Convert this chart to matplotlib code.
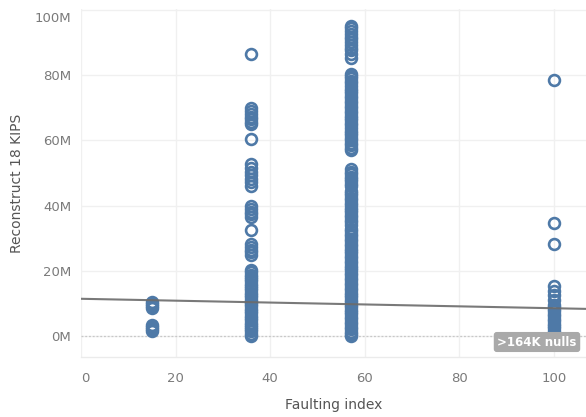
import matplotlib
matplotlib.use("Agg")
import matplotlib.pyplot as plt
import matplotlib.transforms as mtransforms
from matplotlib.ticker import FuncFormatter

# Faulting index levels and the Reconstruct 18 KIPS readings (millions) at each level
fault_levels = [15, 36, 57, 100]

kips_15 = [10.3, 9.7, 9.1, 8.5, 3.5, 2.8, 2.1, 1.4]

kips_36 = [86.5,
           69.8, 69.0, 68.2, 67.3, 66.5, 65.6, 64.9,
           60.3,
           52.7, 51.6, 50.4, 49.5, 48.2, 47.1, 46.1,
           39.8, 38.9, 38.1, 37.3, 36.6,
           32.6,
           28.2, 27.3, 26.4, 25.6, 24.8,
           20.3, 19.6, 18.8, 18.1, 17.5, 16.8, 16.0, 15.3, 14.7, 14.0, 13.2,
           12.6, 11.9, 11.1, 10.4, 9.8, 9.1, 8.3, 7.7, 7.0, 6.2, 5.6, 4.9,
           4.1, 3.5, 2.8, 2.0, 1.4, 0.7, 0.1]

kips_57 = [95.2, 94.4, 93.5, 92.7, 91.8, 91.0, 90.1, 89.2, 88.4, 87.6, 86.5, 85.4,
           80.5, 79.8, 79.0, 78.3, 77.5, 76.6, 75.9, 75.2, 74.4, 73.7, 72.9,
           72.1, 71.4, 70.6, 69.9, 69.1, 68.4, 67.6, 66.8, 66.1, 65.3, 64.6,
           63.8, 63.0, 62.3, 61.5, 60.8, 60.0, 59.3, 58.5, 57.7, 56.9,
           51.2, 50.4, 49.7, 48.9, 48.2, 47.4, 46.7, 45.9, 44.6, 43.9, 43.1,
           42.4, 41.6, 40.9, 40.1, 39.4, 38.6, 37.9, 37.1, 36.4, 35.6, 34.9,
           34.1, 32.8, 32.1, 31.3, 30.6, 29.8, 29.1, 28.3, 27.6, 26.8, 26.1,
           25.3, 24.6, 23.8, 23.1, 22.3, 21.6, 20.8, 20.1, 19.3, 18.6, 17.8,
           17.1, 16.3, 15.6, 14.8, 14.1, 13.3, 12.6, 11.8, 11.1, 10.3, 9.6,
           8.8, 8.1, 7.3, 6.6, 5.8, 5.1, 4.3, 3.6, 2.8, 2.1, 1.3, 0.6, 0.0]

kips_100 = [78.4, 34.8, 28.3,
            15.2, 13.9, 12.6, 11.0, 9.6,
            9.0, 8.3, 7.5, 6.8, 6.0, 5.3, 4.5, 3.8, 3.0, 2.3, 1.5, 0.8, 0.1]

# Linear trend line (millions): value = intercept + slope * faulting index
trend_intercept = 11.4
trend_slope = -0.029

x_ticks = [0, 20, 40, 60, 80, 100]
y_ticks = [0, 20, 40, 60, 80, 100]
null_label = ">164K nulls"

series = [kips_15, kips_36, kips_57, kips_100]

W, H = 586, 417
fig = plt.figure(figsize=(W / 100, H / 100), dpi=100)
left_px, right_px, top_px, bottom_px = 81, 586, 9, 357
ax = fig.add_axes([left_px / W, 1 - bottom_px / H,
                   (right_px - left_px) / W, (bottom_px - top_px) / H])

xmin, xmax = 0, 106.8
ymin, ymax = -6.46, 100.3
ax.set_xlim(xmin, xmax)
ax.set_ylim(ymin, ymax)

blue = "#4e79a7"
for xv, vals in zip(fault_levels, series):
    ax.plot([xv] * len(vals), vals, linestyle="none", marker="o",
            markersize=7.8, markerfacecolor="none", markeredgecolor=blue,
            markeredgewidth=1.9, zorder=3)

tx = [xmin, xmax]
ty = [trend_intercept + trend_slope * v for v in tx]
ax.plot(tx, ty, color="#6b6b6b", linewidth=1.5, alpha=0.9, zorder=4)

# grid and frame
ax.set_xticks(x_ticks)
ax.set_yticks(y_ticks)
ax.grid(True, color="#f0f0f0", linewidth=1.0, zorder=0)
ax.axhline(0, color="#c8c8c8", linewidth=0.9, linestyle=(0, (1.5, 1.5)), zorder=1)
for side in ["top", "right", "left"]:
    ax.spines[side].set_visible(False)
ax.spines["bottom"].set_color("#ebebeb")
ax.spines["bottom"].set_linewidth(1.0)
ax.set_axisbelow(True)

ax.yaxis.set_major_formatter(FuncFormatter(lambda v, p: f"{v:.0f}M"))
ax.tick_params(axis="both", length=0, labelsize=9.5, colors="#7a7a7a")
ax.tick_params(axis="y", pad=7)
ax.tick_params(axis="x", pad=11)

# nudge edge labels inward
fig.canvas.draw()
xlabels = ax.get_xticklabels()
xlabels[0].set_transform(xlabels[0].get_transform() +
                         mtransforms.ScaledTranslation(4 / 100, 0, fig.dpi_scale_trans))
ylabels = ax.get_yticklabels()
ylabels[-1].set_transform(ylabels[-1].get_transform() +
                          mtransforms.ScaledTranslation(0, -7 / 100, fig.dpi_scale_trans))

ax.set_xlabel("Faulting index", fontsize=10, color="#555555", labelpad=9)
ax.set_ylabel("Reconstruct 18 KIPS", fontsize=10, color="#555555", labelpad=8)

fig.text(537 / W, 1 - 342 / H, null_label, ha="center", va="center",
         fontsize=8.5, fontweight="bold", color="white",
         bbox=dict(boxstyle="round,pad=0.3,rounding_size=0.25",
                   fc="#a9a9a9", ec="none"), zorder=10)

fig.savefig("out.png", dpi=100)
